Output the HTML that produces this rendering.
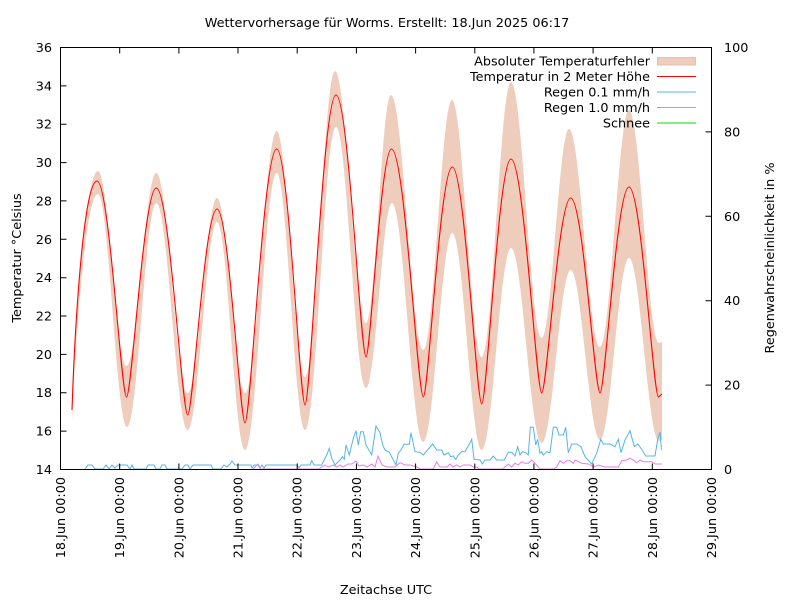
<!DOCTYPE html>
<html>
<head>
<meta charset="utf-8">
<style>
html,body{margin:0;padding:0;background:#fff;}
svg{display:block;}
text{font-family:"DejaVu Sans","Liberation Sans",sans-serif;font-size:12.8px;fill:#000;}
</style>
</head>
<body>
<svg width="800" height="600" viewBox="0 0 800 600" xmlns="http://www.w3.org/2000/svg">
<rect x="0" y="0" width="800" height="600" fill="#fff"/>

<!-- error band -->
<path fill="#efcdbc" stroke="none" d="
M72,404 C76,310 86,171 98,171
C108.5,171 116,366 126.5,366
C137.5,366 145.3,173 156.3,173
C167.9,173 176.1,393 187.7,393
C198.5,393 206.2,198 217,198
C227.4,198 234.6,393 245,393
C256.7,393 265,131 276.7,131
C287.2,131 294.5,377 305,377
C316.1,377 323.9,71 335,71
C346.5,71 354.5,323 366,323
C375.3,323 381.7,95 391,95
C403,95 411.3,350 423.3,350
C433.9,350 441.4,100 452,100
C463,100 470.7,357 481.7,357
C492.5,357 500.2,82 511,82
C522.4,82 530.3,338 541.7,338
C551.8,338 558.9,129 569,129
C580.5,129 588.5,347 600,347
C610.7,347 618.3,110 629,110
C640.1,110 647.9,343 659,343
L662,342 L662,440 L659,441
C647.9,441 640.1,258 629,258
C618.3,258 610.7,440 600,440
C589.2,440 581.5,270 570.7,270
C560,270 552.4,443 541.7,443
C530.3,443 522.4,248 511,248
C500.2,248 492.5,450 481.7,450
C470.8,450 463.2,233 452.3,233
C441.6,233 434,442 423.3,442
C411.7,442 403.6,203 392,203
C382.4,203 375.6,388 366,388
C354.9,388 347.1,127 336,127
C324.5,127 316.5,430 305,430
C294.5,430 287.2,173 276.7,173
C265,173 256.7,450 245,450
C234.6,450 227.4,222 217,222
C206.2,222 198.5,430 187.7,430
C176.1,430 167.9,203 156.3,203
C145.3,203 137.8,427 127,427
C116.3,427 108.7,194 98,194
C86,194 76,330 72,422 Z"/>

<!-- temperature -->
<path fill="none" stroke="#ff0000" stroke-width="1.1" d="
M72,410 C75,320 84,181 97,181
C109.4,181 121.2,397 126.5,397
C131.9,397 143.8,188 156.3,188
C169.5,188 182,415 187.7,415
C193,415 204.7,209 217,209
C228.8,209 240,423 245,423
C250.7,423 263.4,149 276.7,149
C288.6,149 299.9,405 305,405
C310.6,405 323,95 336,95
C348.6,95 360.6,357 366,357
C370.6,357 380.8,149 391.5,149
C404.9,149 417.6,397 423.3,397
C428.5,397 440.1,167 452.3,167
C464.6,167 476.4,404 481.7,404
C487,404 498.7,159 511,159
C523.9,159 536.2,393 541.7,393
C546.9,393 558.5,198 570.7,198
C583,198 594.7,393 600,393
C605.2,393 616.8,187 629,187
C641.4,187 653.2,397 658.5,397
L662,394"/>

<!-- rain 0.1 -->
<path fill="none" stroke="#56b4e9" stroke-width="1" d="
M85,469 L88,465 L92,465 L95,469 L103,469 L106,465 L109,469 L112,465 L115,468 L118,465 L127,465 L130,469 L132,465 L134,469 L146,469 L148,465 L154,465 L156,469 L160,469 L162,465 L165,465 L167,469 L182,469 L185,465 L188,465 L190,469 L193,465 L211,465 L213,469 L221,469 L224,465 L227,467 L230,464 L232,461 L235,465 L251,465 L252,468 L254,465 L258,465 L260,468 L262,465 L264,468 L266,465 L297,465 L299,468 L301,465 L310,465 L311.7,460.7 L314,465 L321.7,465 L326.7,455 L329.3,448.3 L331.7,458.3 L335,465 L340,460 L342.7,456.7 L344.3,459.3 L346,445 L349.3,455 L353.3,438.3 L356,430.7 L358.3,445 L360.7,431.7 L363.3,431.7 L366,445 L371.7,455 L376,426 L380,432.7 L382.7,445 L385,450 L389.3,452.3 L396,465 L398.3,453.3 L401,450 L404,444.3 L409.3,444.3 L411,432.7 L415,451.7 L420,452.3 L423.3,455 L432.7,444 L436.7,450 L441.7,450 L444,455 L448.3,452.7 L450.7,456.7 L453.3,456 L455.7,459.3 L458.3,455 L461.7,451.7 L465,451.7 L469.3,444 L471.7,439.3 L474,459.3 L480,460 L482.3,464 L485,460 L490,460 L493.3,456 L496.7,460 L504.3,460 L508.3,452.3 L511.7,452.3 L515,456 L517.7,446.7 L520,455 L522.3,451.7 L525.7,452.7 L528.3,455 L530.3,427.3 L533.3,427.3 L535.7,445 L537.7,439.3 L540,453.3 L541.7,451.7 L543.3,455 L546.7,451.7 L550,452.7 L553.3,427.3 L556.7,427.3 L559,435 L563.3,435 L565.7,427.3 L568.3,452.7 L571.7,444 L576.7,444 L581,446.7 L585,456.7 L591.7,464 L596.7,453.3 L600.7,439.3 L603.3,444 L610,444 L615,446.7 L618.3,439.3 L621,452.7 L625,440 L630,430.7 L634.3,446.7 L637.7,444 L641.7,449.3 L645.7,456 L655,456 L657.7,439.3 L660,432 L661.5,450"/>

<!-- rain 1.0 -->
<path fill="none" stroke="#e77de7" stroke-width="1" d="
M253,469 L258,464 L261,469 L319,469 L321.7,467 L325,465 L328,467 L333,465 L337,467 L340,465 L343,467 L348,464 L352,464 L356,461 L359,466 L363,465 L367,467 L372,464 L375,467 L378,456 L382,465 L387,467 L395,467 L400,462.7 L405,465 L410,465 L417,467 L420,469 L433,469 L436.7,462 L440,467 L447,467 L450,464 L453,467 L456.7,465 L460,467 L463.3,465 L470,465 L473.3,467 L477,467 L479,469 L503,469 L505,467 L508.3,464 L511.7,467 L515,463.3 L518.3,465 L521.7,461.7 L525,463.3 L528.3,463.3 L531.7,460 L535,463.3 L538.3,467 L540,469 L554,469 L556.7,467 L560,460.7 L563.3,463.3 L566.7,460.7 L570,460.7 L573.3,463.3 L575,460 L578.3,461.7 L581.7,463.3 L588.3,464 L593.3,467 L598.3,465 L605,467 L618.3,467 L621.7,460.7 L626.7,460 L630,458.3 L633.3,460 L636.7,462.7 L640,460 L643.3,461.7 L651.7,461.7 L655,464 L662,464"/>

<!-- frame -->
<rect x="60.5" y="47.5" width="651" height="422" fill="none" stroke="#000" stroke-width="1"/>

<!-- ticks -->
<g stroke="#000" stroke-width="1" fill="none">
<path d="M60.5,47.5h6 M60.5,85.9h6 M60.5,124.2h6 M60.5,162.6h6 M60.5,200.9h6 M60.5,239.3h6 M60.5,277.7h6 M60.5,316h6 M60.5,354.4h6 M60.5,392.7h6 M60.5,431.1h6 M60.5,469.5h6"/>
<path d="M711.5,47.5h-6 M711.5,131.9h-6 M711.5,216.3h-6 M711.5,300.7h-6 M711.5,385.1h-6 M711.5,469.5h-6"/>
<path d="M119.7,469.5v-6 M178.9,469.5v-6 M238,469.5v-6 M297.2,469.5v-6 M356.4,469.5v-6 M415.6,469.5v-6 M474.8,469.5v-6 M533.9,469.5v-6 M593.1,469.5v-6 M652.3,469.5v-6"/>
<path d="M119.7,47.5v6 M178.9,47.5v6 M238,47.5v6 M297.2,47.5v6 M356.4,47.5v6 M415.6,47.5v6 M474.8,47.5v6 M533.9,47.5v6 M593.1,47.5v6 M652.3,47.5v6"/>
</g>

<!-- left labels -->
<g text-anchor="end">
<text x="52" y="52">36</text>
<text x="52" y="90.4">34</text>
<text x="52" y="128.7">32</text>
<text x="52" y="167.1">30</text>
<text x="52" y="205.4">28</text>
<text x="52" y="243.8">26</text>
<text x="52" y="282.2">24</text>
<text x="52" y="320.5">22</text>
<text x="52" y="358.9">20</text>
<text x="52" y="397.2">18</text>
<text x="52" y="435.6">16</text>
<text x="52" y="474">14</text>
</g>
<!-- right labels -->
<g text-anchor="start">
<text x="724" y="52">100</text>
<text x="724" y="136.4">80</text>
<text x="724" y="220.8">60</text>
<text x="724" y="305.2">40</text>
<text x="724" y="389.6">20</text>
<text x="724" y="474">0</text>
</g>

<!-- x labels -->
<g text-anchor="end">
<text transform="translate(65,477) rotate(-90)">18.Jun 00:00</text>
<text transform="translate(124.2,477) rotate(-90)">19.Jun 00:00</text>
<text transform="translate(183.4,477) rotate(-90)">20.Jun 00:00</text>
<text transform="translate(242.5,477) rotate(-90)">21.Jun 00:00</text>
<text transform="translate(301.7,477) rotate(-90)">22.Jun 00:00</text>
<text transform="translate(360.9,477) rotate(-90)">23.Jun 00:00</text>
<text transform="translate(420.1,477) rotate(-90)">24.Jun 00:00</text>
<text transform="translate(479.3,477) rotate(-90)">25.Jun 00:00</text>
<text transform="translate(538.4,477) rotate(-90)">26.Jun 00:00</text>
<text transform="translate(597.6,477) rotate(-90)">27.Jun 00:00</text>
<text transform="translate(656.8,477) rotate(-90)">28.Jun 00:00</text>
<text transform="translate(716,477) rotate(-90)">29.Jun 00:00</text>
</g>

<!-- titles -->
<text x="387" y="27" text-anchor="middle">Wettervorhersage für Worms. Erstellt: 18.Jun 2025 06:17</text>
<text x="386" y="594" text-anchor="middle">Zeitachse UTC</text>
<text transform="translate(21,258) rotate(-90)" text-anchor="middle">Temperatur °Celsius</text>
<text transform="translate(774,258) rotate(-90)" text-anchor="middle">Regenwahrscheinlichkeit in %</text>

<!-- legend -->
<g text-anchor="end">
<text x="650" y="65.5">Absoluter Temperaturfehler</text>
<text x="650" y="81">Temperatur in 2 Meter Höhe</text>
<text x="650" y="96.5">Regen 0.1 mm/h</text>
<text x="650" y="112">Regen 1.0 mm/h</text>
<text x="650" y="127.5">Schnee</text>
</g>
<rect x="657.5" y="57.5" width="38" height="7.5" fill="#efcdbc" stroke="#e6bfab" stroke-width="1"/>
<line x1="657" y1="76.5" x2="696" y2="76.5" stroke="#ff0000" stroke-width="1"/>
<line x1="657" y1="92" x2="696" y2="92" stroke="#56b4e9" stroke-width="1"/>
<line x1="657" y1="107.5" x2="696" y2="107.5" stroke="#e77de7" stroke-width="1"/>
<line x1="657" y1="123" x2="696" y2="123" stroke="#00dd00" stroke-width="1"/>
</svg>
</body>
</html>
